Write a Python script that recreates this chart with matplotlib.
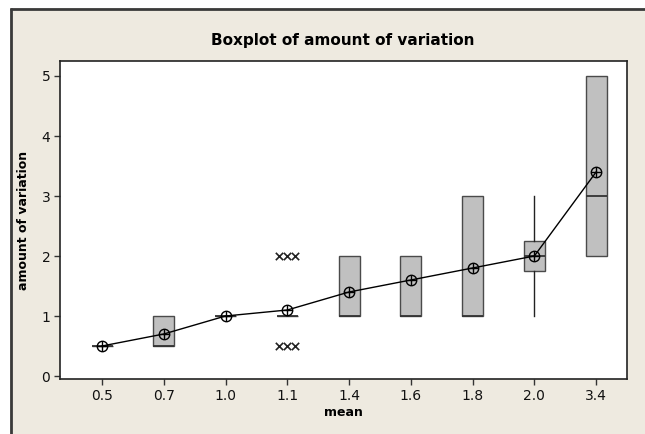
import matplotlib
matplotlib.use("Agg")
import matplotlib.pyplot as plt
from matplotlib.patches import Rectangle
from matplotlib.lines import Line2D

categories = ["0.5", "0.7", "1.0", "1.1", "1.4", "1.6", "1.8", "2.0", "3.4"]
q1 = [0.5, 0.5, 1.0, 1.0, 1.0, 1.0, 1.0, 1.75, 2.0]
median = [0.5, 0.5, 1.0, 1.0, 1.0, 1.0, 1.0, 2.0, 3.0]
q3 = [0.5, 1.0, 1.0, 1.0, 2.0, 2.0, 3.0, 2.25, 5.0]
whisker_low = [0.5, 0.5, 1.0, 1.0, 1.0, 1.0, 1.0, 1.0, 2.0]
whisker_high = [0.5, 1.0, 1.0, 1.0, 2.0, 2.0, 3.0, 3.0, 5.0]
means = [0.5, 0.7, 1.0, 1.1, 1.4, 1.6, 1.8, 2.0, 3.4]
outlier_category = 3
outlier_values = [2.0, 2.0, 2.0, 0.5, 0.5, 0.5]
outlier_offsets = [-0.13, 0.0, 0.13, -0.13, 0.0, 0.13]

BG = "#EEEAE0"
fig = plt.figure(figsize=(6.45, 4.34), dpi=100)
fig.patch.set_facecolor("white")
fig.patches.append(Rectangle((10/645, 0), 1, 1 - 8/434, transform=fig.transFigure,
                             facecolor=BG, edgecolor="none", zorder=-10))
fig.lines.append(Line2D([10.5/645, 10.5/645], [0, 1 - 8/434], transform=fig.transFigure,
                        color="#3a3a3a", lw=2, solid_capstyle="butt"))
fig.lines.append(Line2D([10/645, 1], [1 - 8.5/434, 1 - 8.5/434], transform=fig.transFigure,
                        color="#3a3a3a", lw=2, solid_capstyle="butt"))

ax = fig.add_axes([60/645, 1 - 379/434, 567/645, 318/434])
ax.set_facecolor("white")

stats = []
for i in range(len(categories)):
    stats.append(dict(q1=q1[i], med=median[i], q3=q3[i], whislo=whisker_low[i],
                      whishi=whisker_high[i], mean=means[i], fliers=[]))
pos = list(range(len(categories)))
ax.bxp(stats, positions=pos, widths=0.34, patch_artist=True, showcaps=False,
       showmeans=False, showfliers=False,
       boxprops=dict(facecolor="#C0C0C0", edgecolor="#4a4a4a", linewidth=1.0),
       medianprops=dict(color="#333333", linewidth=1.3),
       whiskerprops=dict(color="#222222", linewidth=1.0))

ax.plot(pos, means, color="black", lw=1.0, zorder=5)
ax.plot(pos, means, ls="none", marker="o", ms=7.5, mfc="none", mec="black", mew=1.0, zorder=6)
ax.plot(pos, means, ls="none", marker="+", ms=7.5, mec="black", mew=1.0, zorder=6)

ax.scatter([outlier_category + o for o in outlier_offsets], outlier_values,
           marker="x", s=28, color="#222222", linewidths=1.2, zorder=6)

ax.set_xlim(-0.68, 8.5)
ax.set_ylim(-0.05, 5.25)
ax.set_xticks(pos)
ax.set_xticklabels(categories)
ax.set_yticks(range(0, 6))
ax.tick_params(axis="both", direction="out", length=4, width=1, color="#333333",
               labelsize=10, labelcolor="#111111", pad=3)
for s in ax.spines.values():
    s.set_color("#222222")
    s.set_linewidth(1.2)

ax.set_xlabel("mean", fontsize=9, fontweight="bold", labelpad=2)
ax.set_ylabel("amount of variation", fontsize=9, fontweight="bold", labelpad=8)
fig.text(343/645, 1 - 40/434, "Boxplot of amount of variation", ha="center", va="center",
         fontsize=11, fontweight="bold")

fig.savefig("out.png", dpi=100, facecolor=fig.get_facecolor())
